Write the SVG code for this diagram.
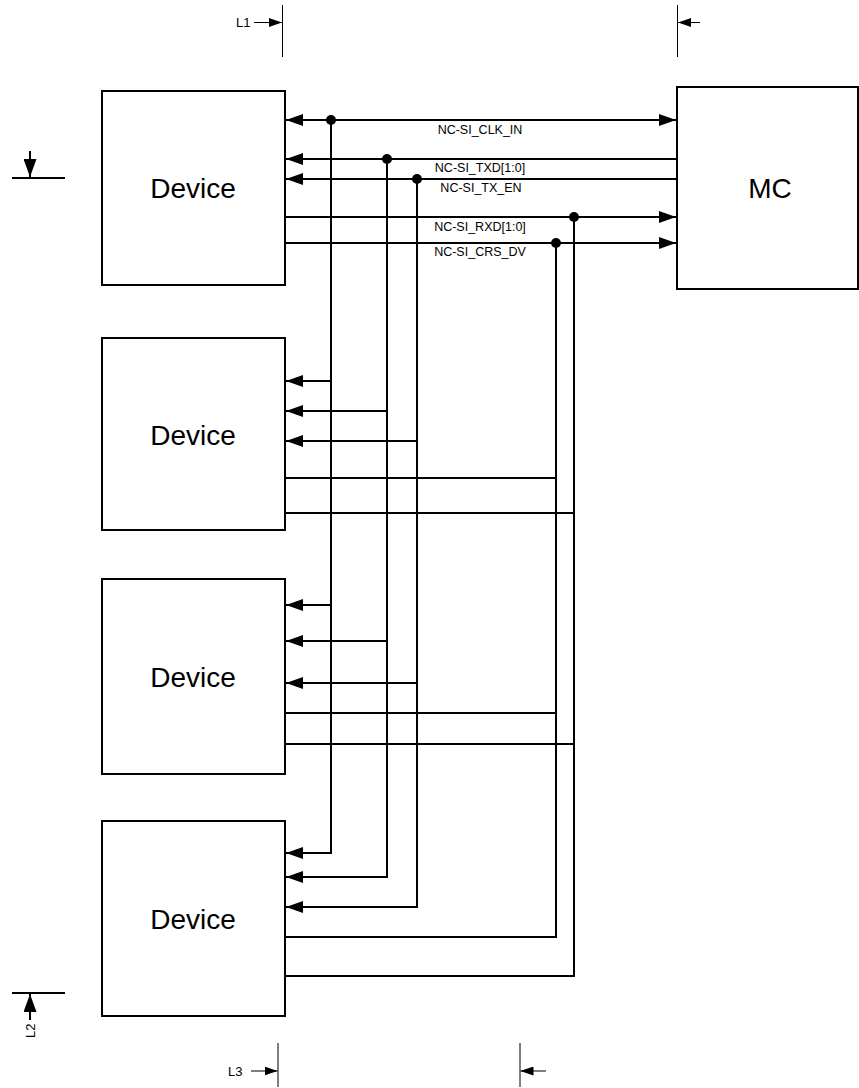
<svg xmlns="http://www.w3.org/2000/svg" width="859" height="1088" viewBox="0 0 859 1088">
<style>
.box{fill:#fff;stroke:#000;stroke-width:2}
.big{font-family:"Liberation Sans",Arial,sans-serif;font-size:28px;fill:#000;text-anchor:middle}
.lbl{font-family:"Liberation Sans",Arial,sans-serif;font-size:12.5px;fill:#000;text-anchor:middle}
.dim{font-family:"Liberation Sans",Arial,sans-serif;font-size:13px;fill:#000}
.w{fill:none;stroke:#000;stroke-width:2}
.wa{fill:none;stroke:#000;stroke-width:2;marker-end:url(#ah)}
.thin{fill:none;stroke:#000;stroke-width:1}
.dot{fill:#000}
</style>
<defs>
<marker id="ah" markerUnits="userSpaceOnUse" markerWidth="17" markerHeight="12" refX="17" refY="6" orient="auto"><path d="M0,0 L17,6 L0,12 z" fill="#000"/></marker>
<marker id="ahs" markerUnits="userSpaceOnUse" markerWidth="17" markerHeight="12" refX="17" refY="6" orient="auto-start-reverse"><path d="M0,0 L17,6 L0,12 z" fill="#000"/></marker>
<marker id="dh" markerUnits="userSpaceOnUse" markerWidth="13" markerHeight="9" refX="13" refY="4.5" orient="auto"><path d="M0,0 L13,4.5 L0,9 z" fill="#000"/></marker>
<marker id="vh" markerUnits="userSpaceOnUse" markerWidth="18" markerHeight="13" refX="18" refY="6.5" orient="auto"><path d="M0,0 L18,6.5 L0,13 z" fill="#000"/></marker>
</defs>

<g id="device1"><rect class="box" x="102" y="91" width="183" height="194"/><text class="big" x="193" y="198">Device</text></g>
<g id="device2"><rect class="box" x="102" y="338" width="183" height="192"/><text class="big" x="193" y="445">Device</text></g>
<g id="device3"><rect class="box" x="102" y="579" width="183" height="195"/><text class="big" x="193" y="687">Device</text></g>
<g id="device4"><rect class="box" x="102" y="821" width="183" height="195"/><text class="big" x="193" y="929">Device</text></g>
<g id="mc"><rect class="box" x="677" y="87" width="181" height="202"/><text class="big" x="770" y="198">MC</text></g>

<g id="connectors">
  <line class="w" x1="286" y1="120" x2="676" y2="120" marker-start="url(#ahs)" marker-end="url(#ah)"/>
  <line class="wa" x1="677" y1="159" x2="286" y2="159"/>
  <line class="wa" x1="677" y1="179" x2="286" y2="179"/>
  <line class="wa" x1="285" y1="217" x2="676" y2="217"/>
  <line class="wa" x1="285" y1="243" x2="676" y2="243"/>

  <polyline class="w" points="331,120 331,853"/>
  <polyline class="w" points="387,159 387,877"/>
  <polyline class="w" points="417,179 417,907"/>
  <polyline class="w" points="556,243 556,937"/>
  <polyline class="w" points="574,217 574,976"/>

  <line class="wa" x1="331" y1="381" x2="286" y2="381"/>
  <line class="wa" x1="387" y1="411" x2="286" y2="411"/>
  <line class="wa" x1="417" y1="441" x2="286" y2="441"/>
  <line class="w" x1="285" y1="478" x2="556" y2="478"/>
  <line class="w" x1="285" y1="513" x2="574" y2="513"/>

  <line class="wa" x1="331" y1="605" x2="286" y2="605"/>
  <line class="wa" x1="387" y1="641" x2="286" y2="641"/>
  <line class="wa" x1="417" y1="683" x2="286" y2="683"/>
  <line class="w" x1="285" y1="713" x2="556" y2="713"/>
  <line class="w" x1="285" y1="744" x2="574" y2="744"/>

  <line class="wa" x1="332" y1="853" x2="286" y2="853"/>
  <line class="wa" x1="388" y1="877" x2="286" y2="877"/>
  <line class="wa" x1="418" y1="907" x2="286" y2="907"/>
  <line class="w" x1="285" y1="937" x2="557" y2="937"/>
  <line class="w" x1="285" y1="976" x2="575" y2="976"/>

  <circle class="dot" cx="331" cy="120" r="5"/>
  <circle class="dot" cx="387" cy="159" r="5"/>
  <circle class="dot" cx="417" cy="179" r="5"/>
  <circle class="dot" cx="574" cy="217" r="5"/>
  <circle class="dot" cx="556" cy="243" r="5"/>
</g>

<g id="labels">
  <text class="lbl" x="480" y="134">NC-SI_CLK_IN</text>
  <text class="lbl" x="480" y="172">NC-SI_TXD[1:0]</text>
  <text class="lbl" x="481" y="192">NC-SI_TX_EN</text>
  <text class="lbl" x="480" y="231">NC-SI_RXD[1:0]</text>
  <text class="lbl" x="480" y="256">NC-SI_CRS_DV</text>
</g>

<g id="dimensions">
  <text class="dim" x="236" y="27">L1</text>
  <line class="thin" x1="254" y1="22.5" x2="282" y2="22.5" marker-end="url(#dh)"/>
  <line class="thin" x1="282.5" y1="5" x2="282.5" y2="57"/>
  <line class="thin" x1="677.5" y1="5" x2="677.5" y2="57"/>
  <line class="thin" x1="700" y1="22.5" x2="678" y2="22.5" marker-end="url(#dh)"/>

  <line class="w" x1="12" y1="178" x2="65" y2="178"/>
  <line class="w" x1="30" y1="151" x2="30" y2="177" marker-end="url(#vh)"/>

  <line class="w" x1="12" y1="993" x2="65" y2="993"/>
  <line class="w" x1="30" y1="1020" x2="30" y2="994" marker-end="url(#vh)"/>
  <text class="dim" transform="translate(35,1038) rotate(-90)">L2</text>

  <text class="dim" x="228" y="1076">L3</text>
  <line class="thin" x1="251" y1="1071" x2="277.5" y2="1071" marker-end="url(#dh)"/>
  <line class="thin" x1="278" y1="1043" x2="278" y2="1087"/>
  <line class="thin" x1="520" y1="1043" x2="520" y2="1087"/>
  <line class="thin" x1="546" y1="1071" x2="520.5" y2="1071" marker-end="url(#dh)"/>
</g>
</svg>
